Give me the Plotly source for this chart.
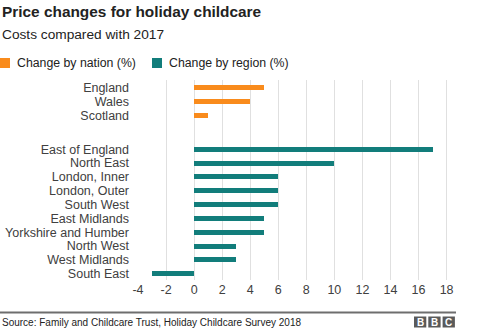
import plotly.graph_objects as go

# Percentage change in holiday childcare prices compared with 2017
nations = ["England", "Wales", "Scotland"]
nation_change = [5, 4, 1]

regions = ["East of England", "North East", "London, Inner", "London, Outer",
           "South West", "East Midlands", "Yorkshire and Humber",
           "North West", "West Midlands", "South East"]
region_change = [17, 10, 6, 6, 6, 5, 5, 3, 3, -3]

x_ticks = [-4, -2, 0, 2, 4, 6, 8, 10, 12, 14, 16, 18]

ORANGE = "#f98b1c"
TEAL = "#127d7b"
FONT = "Liberation Sans, Arial, sans-serif"

# Row positions: nations first, then a gap before the regions
GAP = 2.45
nation_pos = list(range(len(nations)))
region_pos = [len(nations) - 1 + GAP + i for i in range(len(regions))]

fig = go.Figure()
fig.add_trace(go.Bar(x=nation_change, y=nation_pos, orientation="h",
                     marker=dict(color=ORANGE, line=dict(width=0)),
                     width=0.36, name="Change by nation (%)", showlegend=False))
fig.add_trace(go.Bar(x=region_change, y=region_pos, orientation="h",
                     marker=dict(color=TEAL, line=dict(width=0)),
                     width=0.36, name="Change by region (%)", showlegend=False))

fig.update_layout(
    width=480, height=331,
    margin=dict(l=138, r=25, t=80, b=51),
    paper_bgcolor="white", plot_bgcolor="white",
    font=dict(family=FONT, color="#404040", size=12),
    bargap=0,
    xaxis=dict(range=[-4, 18.6], tickvals=x_ticks,
               ticktext=[str(v) for v in x_ticks], showgrid=True,
               gridcolor="#e0e0e0", gridwidth=1, zeroline=False,
               showline=False, ticks="", tickfont=dict(size=12.5, color="#404040"),
               automargin=False, fixedrange=True),
    yaxis=dict(range=[13.9, -0.55], tickvals=nation_pos + region_pos,
               ticktext=nations + regions, showgrid=False, zeroline=False,
               showline=False, ticks="", ticklabelstandoff=8,
               tickfont=dict(size=12.5, color="#404040"),
               automargin=False, fixedrange=True),
)

# Heading and subheading
fig.add_annotation(text="<b>Price changes for holiday childcare</b>",
                   xref="paper", yref="paper", x=-138 / 317, y=1 + 68 / 200,
                   xanchor="left", yanchor="middle", showarrow=False,
                   font=dict(size=15.4, color="#222222", family=FONT))
fig.add_annotation(text="Costs compared with 2017",
                   xref="paper", yref="paper", x=-138 / 317, y=1 + 46 / 200,
                   xanchor="left", yanchor="middle", showarrow=False,
                   font=dict(size=13.7, color="#222222", family=FONT))

# Legend keys
px_x = lambda p: (p - 138) / 317
px_y = lambda p: (280 - p) / 200
for x0, color, label in [(0, ORANGE, "Change by nation (%)"),
                         (152, TEAL, "Change by region (%)")]:
    fig.add_shape(type="rect", xref="paper", yref="paper",
                  x0=px_x(x0), x1=px_x(x0 + 10), y0=px_y(68), y1=px_y(58),
                  fillcolor=color, line=dict(width=0))
    fig.add_annotation(text=label, xref="paper", yref="paper",
                       x=px_x(x0 + 15), y=px_y(63), xanchor="left",
                       yanchor="middle", showarrow=False,
                       font=dict(size=12.3, color="#222222", family=FONT))

# Footer rule, source and logo
fig.add_shape(type="line", xref="paper", yref="paper",
              x0=px_x(0), x1=px_x(456), y0=px_y(312.5), y1=px_y(312.5),
              line=dict(color="#6e6e6e", width=2))
fig.add_annotation(text="Source: Family and Childcare Trust, Holiday Childcare Survey 2018",
                   xref="paper", yref="paper", x=px_x(0), y=px_y(322),
                   xanchor="left", yanchor="middle", showarrow=False,
                   font=dict(size=10, color="#222222", family=FONT))
for i, letter in enumerate("BBC"):
    bx = 414 + i * 14.3
    fig.add_shape(type="rect", xref="paper", yref="paper",
                  x0=px_x(bx), x1=px_x(bx + 12.3), y0=px_y(327.5), y1=px_y(316.5),
                  fillcolor="#5a5a5a", line=dict(width=0))
    fig.add_annotation(text="<b>%s</b>" % letter, xref="paper", yref="paper",
                       x=px_x(bx + 6.15), y=px_y(322), xanchor="center",
                       yanchor="middle", showarrow=False,
                       font=dict(size=10, color="white", family=FONT))

fig.write_html("out.html")
